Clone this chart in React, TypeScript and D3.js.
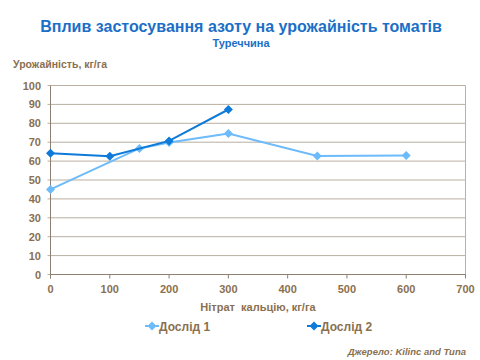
import React from 'react'
import * as d3 from 'd3'

// values
const seriesNames = ['Дослід 1', 'Дослід 2']
const nitrate1 = [0, 150, 200, 300, 450, 600]
const yield1 = [45, 66.7, 69.8, 74.6, 62.7, 62.9]
const nitrate2 = [0, 100, 200, 300]
const yield2 = [64.2, 62.6, 70.7, 87.3]
const xTicks = [0, 100, 200, 300, 400, 500, 600, 700]
const yTicks = [0, 10, 20, 30, 40, 50, 60, 70, 80, 90, 100]

const colors = ['#6DBBFA', '#0E7AD9']
const textCol = '#8A7050'
const gridCol = '#B9AFA2'

function Diamond({ x, y, color }: { x: number; y: number; color: string }) {
  const s = 4.5
  return <path d={`M${x},${y - s}L${x + s},${y}L${x},${y + s}L${x - s},${y}Z`} fill={color} />
}

function App() {
  const W = 480, H = 360
  const left = 50.5, right = 465.5, top = 85.5, bottom = 274.5
  const x = d3.scaleLinear().domain([0, 700]).range([left, right])
  const y = d3.scaleLinear().domain([0, 100]).range([bottom, top])
  const line = d3.line<[number, number]>().x(d => x(d[0])).y(d => y(d[1]))
  const series = [
    nitrate1.map((v, i) => [v, yield1[i]] as [number, number]),
    nitrate2.map((v, i) => [v, yield2[i]] as [number, number]),
  ]
  const font = 'Arial, "Liberation Sans", sans-serif'

  return (
    <svg width={W} height={H} style={{ position: 'absolute', left: 0, top: 0 }} fontFamily={font}>
      <rect width={W} height={H} fill="#fff" />
      <text x={241} y={32} textAnchor="middle" fontSize={16} fontWeight="bold" fill="#1C6FC6">
        Вплив застосування азоту на урожайність томатів
      </text>
      <text x={241} y={46.5} textAnchor="middle" fontSize={11} fontWeight="bold" fill="#1C6FC6">
        Туреччина
      </text>
      <text x={13} y={68} fontSize={10.5} fontWeight="bold" fill={textCol}>Урожайність, кг/га</text>

      {yTicks.map(t => (
        <g key={t}>
          <line x1={left - 3} x2={right} y1={y(t)} y2={y(t)} stroke={gridCol} strokeWidth={1} />
          <text x={41} y={y(t) + 4} textAnchor="end" fontSize={11} fontWeight="bold" fill={textCol}>{t}</text>
        </g>
      ))}
      <line x1={right} x2={right} y1={top} y2={bottom} stroke={gridCol} />
      <line x1={left} x2={left} y1={top} y2={bottom + 4} stroke="#8E8070" />
      <line x1={left} x2={right} y1={bottom} y2={bottom} stroke="#8E8070" />
      {xTicks.map(t => (
        <g key={t}>
          <line x1={x(t)} x2={x(t)} y1={bottom} y2={bottom + 4} stroke="#8E8070" />
          <text x={x(t)} y={293} textAnchor="middle" fontSize={11} fontWeight="bold" fill={textCol}>{t}</text>
        </g>
      ))}
      <text x={258} y={311} textAnchor="middle" fontSize={11} fontWeight="bold" fill={textCol} xmlSpace="preserve">
        Нітрат  кальцію, кг/га
      </text>

      {series.map((s, i) => (
        <g key={i}>
          <path d={line(s) || ''} fill="none" stroke={colors[i]} strokeWidth={2} />
          {s.map((p, j) => <Diamond key={j} x={x(p[0])} y={y(p[1])} color={colors[i]} />)}
        </g>
      ))}

      {seriesNames.map((n, i) => {
        const lx = i === 0 ? 145 : 307
        return (
          <g key={n}>
            <line x1={lx} x2={lx + 14} y1={326} y2={326} stroke={colors[i]} strokeWidth={2} />
            <Diamond x={lx + 7} y={326} color={colors[i]} />
            <text x={lx + 14} y={331} fontSize={12} fontWeight="bold" fill={textCol}>{n}</text>
          </g>
        )
      })}

      <text x={466} y={355} textAnchor="end" fontSize={9.5} fontWeight="bold" fontStyle="italic" fill={textCol}>
        Джерело: Kilinc and Tuna
      </text>
    </svg>
  )
}

export default App
